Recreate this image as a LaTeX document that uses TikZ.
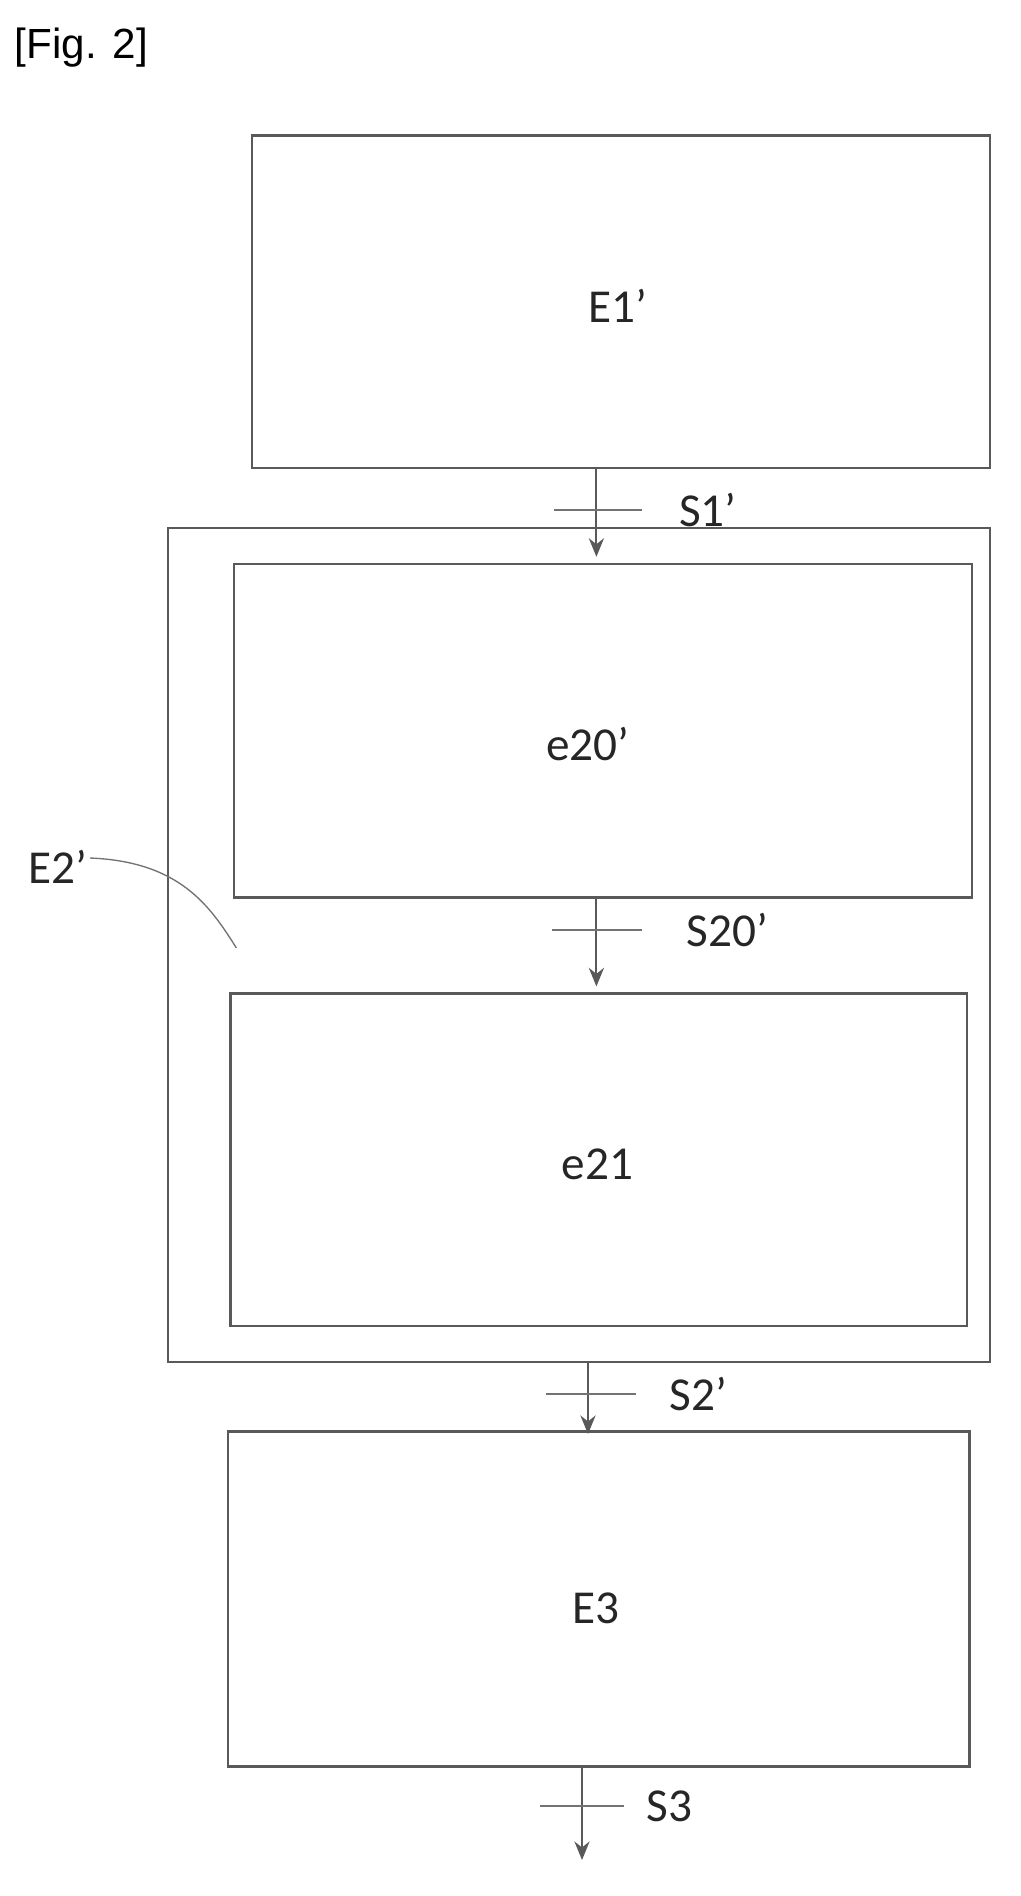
\documentclass[tikz,border=0pt]{standalone}
\usepackage{fontspec}
\setmainfont{Carlito}
\newfontfamily\arialf{Liberation Sans}
\usetikzlibrary{arrows.meta}
\begin{document}
\begin{tikzpicture}[x=0.05cm,y=-0.05cm,
  box/.style={draw=black!65,line width=3pt},
  lbl/.style={font=\fontsize{56}{60}\selectfont,text=black!85},
  arr/.style={draw=black!65,line width=2.4pt,-{Stealth[length=22pt,width=18pt]}},
  tick/.style={draw=black!55,line width=2.2pt}]
\useasboundingbox (0,0) rectangle (850,1580);
\node[font=\arialf\fontsize{50}{54}\selectfont,anchor=west] (fig) at (10,40) {[Fig. 2]};
\draw[box] (210,113) rectangle (825,390);
\node[lbl] (E1) at (515,255) {E1’};
\draw[box] (140,440) rectangle (825,1135);
\draw[box] (195,470) rectangle (810,748);
\node[lbl] (e20) at (490,620) {e20'};
\draw[box] (192,828) rectangle (806,1105);
\node[lbl] (e21) at (498,970) {e21};
\draw[box] (190,1193) rectangle (808,1472);
\node[lbl] (E3) at (497,1340) {E3};
% arrows
\coordinate (a1) at (497,390); \coordinate (b1) at (497,464);
\draw[arr] (a1) -- (b1);
\coordinate (t1a) at (462,425); \coordinate (t1b) at (535,425);
\draw[tick] (t1a) -- (t1b);
\node[lbl] (S1) at (590,425) {S1’};
\coordinate (a2) at (497,748); \coordinate (b2) at (497,822);
\draw[arr] (a2) -- (b2);
\coordinate (t2a) at (460,775); \coordinate (t2b) at (535,775);
\draw[tick] (t2a) -- (t2b);
\node[lbl] (S20) at (606,775) {S20’};
\coordinate (a3) at (490,1135); \coordinate (b3) at (490,1195);
\draw[arr] (a3) -- (b3);
\coordinate (t3a) at (455,1162); \coordinate (t3b) at (530,1162);
\draw[tick] (t3a) -- (t3b);
\node[lbl] (S2) at (582,1162) {S2’};
\coordinate (a4) at (485,1472); \coordinate (b4) at (485,1550);
\draw[arr] (a4) -- (b4);
\coordinate (t4a) at (450,1505); \coordinate (t4b) at (520,1505);
\draw[tick] (t4a) -- (t4b);
\node[lbl] (S3) at (558,1505) {S3};
\node[lbl] (E2) at (48,722) {E2’};
\coordinate (l1) at (75,715); \coordinate (l2) at (197,790);
\draw[tick,line width=1.6pt] (l1) .. controls (150,718) and (175,755) .. (l2);
\end{tikzpicture}
\end{document}
